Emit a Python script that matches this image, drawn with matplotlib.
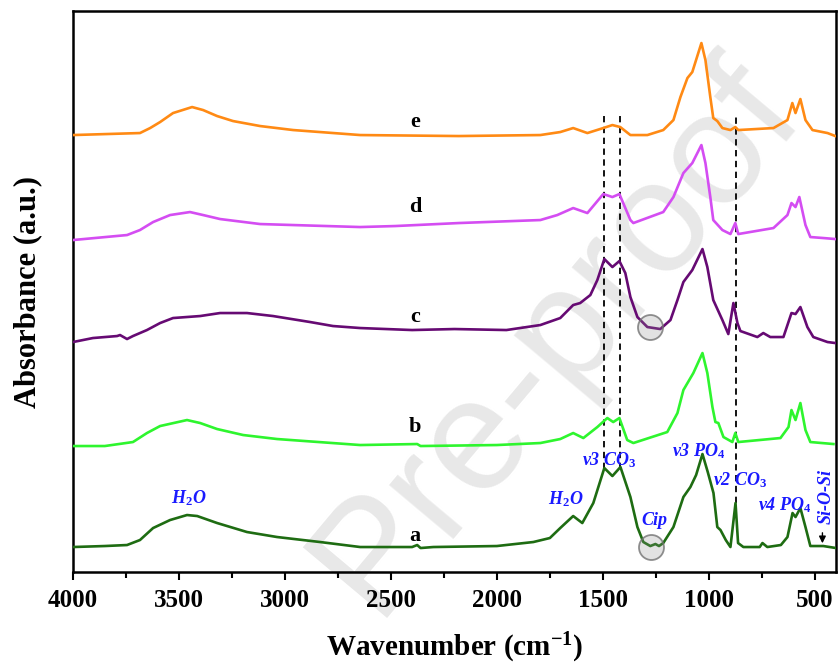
import matplotlib
matplotlib.use("Agg")
import matplotlib.pyplot as plt
from matplotlib.ticker import MultipleLocator

plt.rcParams['font.family'] = ['Liberation Serif', 'DejaVu Serif']
plt.rcParams['mathtext.fontset'] = 'custom'
plt.rcParams['mathtext.rm'] = 'Liberation Serif:bold'
plt.rcParams['mathtext.it'] = 'Liberation Serif:italic:bold'
plt.rcParams['mathtext.bf'] = 'Liberation Serif:bold'

# FTIR spectra (wavenumber in cm-1, absorbance above each baseline)
wn_a = [4000, 3850, 3745, 3684, 3622, 3542, 3462, 3414, 3320, 3179, 3037, 2834, 2645, 2400,
        2376, 2360, 2300, 2000, 1828, 1750, 1701, 1640, 1597, 1545, 1493, 1455, 1417,
        1370, 1337, 1309, 1276, 1252, 1235, 1215, 1167, 1120, 1087, 1060, 1030, 1005, 978, 960, 945,
        920, 898, 874, 862, 837, 760, 747, 724, 660, 629, 605, 591, 568, 544, 521, 460, 400]
abs_a = [0, 0.01, 0.02, 0.07, 0.19, 0.27, 0.32, 0.31, 0.24, 0.15, 0.10, 0.05, 0.0, 0.0,
         0.02, -0.01, 0.0, 0.01, 0.05, 0.09, 0.19, 0.31, 0.24, 0.44, 0.79, 0.71, 0.80,
         0.50, 0.20, 0.05, 0.01, 0.03, 0.01, 0.04, 0.20, 0.50, 0.60, 0.72, 0.93, 0.75, 0.54, 0.20, 0.17,
         0.07, 0.0, 0.44, 0.04, 0.0, 0.0, 0.04, 0.0, 0.02, 0.10, 0.34, 0.30, 0.39, 0.20, 0.01, 0.01, -0.01]

wn_b = [4000, 3850, 3717, 3651, 3589, 3462, 3400, 3320, 3197, 3037, 2645, 2376, 2360, 2000,
        1795, 1701, 1640, 1592, 1526, 1479, 1451, 1422, 1385, 1356, 1196, 1148, 1120, 1073,
        1030, 1007, 983, 969, 955, 931, 889, 875, 861, 662, 624, 610, 591, 568, 544, 521, 412]
abs_b = [-0.01, -0.01, 0.03, 0.12, 0.19, 0.25, 0.22, 0.16, 0.10, 0.06, 0.0, 0.01, -0.01, 0.0,
         0.02, 0.06, 0.12, 0.07, 0.18, 0.27, 0.23, 0.27, 0.05, 0.02, 0.13, 0.32, 0.55, 0.72,
         0.92, 0.72, 0.38, 0.23, 0.22, 0.08, 0.03, 0.12, 0.03, 0.07, 0.18, 0.35, 0.25, 0.42, 0.15, 0.03, 0.01]

wn_c = [4000, 3906, 3792, 3778, 3745, 3717, 3651, 3589, 3528, 3400, 3306, 3179, 3056, 2881,
        2773, 2645, 2400, 2200, 1955, 1795, 1701, 1640, 1607, 1559, 1526, 1493, 1455, 1422,
        1394, 1370, 1337, 1290, 1229, 1181, 1148, 1120, 1078, 1030, 1007, 979, 936, 908, 884,
        865, 851, 771, 743, 710, 648, 610, 591, 568, 535, 507, 440, 403]
abs_c = [-0.02, 0.02, 0.04, 0.05, 0.01, 0.04, 0.10, 0.17, 0.22, 0.24, 0.27, 0.27, 0.24, 0.18,
         0.14, 0.12, 0.10, 0.11, 0.10, 0.15, 0.22, 0.35, 0.37, 0.45, 0.60, 0.81, 0.73, 0.79,
         0.67, 0.43, 0.23, 0.13, 0.11, 0.20, 0.40, 0.58, 0.70, 0.91, 0.73, 0.40, 0.20, 0.06, 0.37,
         0.17, 0.09, 0.03, 0.07, 0.03, 0.03, 0.27, 0.26, 0.33, 0.13, 0.03, -0.02, -0.03]

wn_d = [4000, 3745, 3684, 3622, 3542, 3448, 3386, 3306, 3117, 2961, 2645, 2480, 2180, 1795,
        1715, 1640, 1573, 1498, 1455, 1422, 1370, 1356, 1215, 1167, 1120, 1078, 1035, 1016,
        993, 979, 936, 898, 875, 861, 695, 629, 610, 591, 573, 544, 521, 459, 403]
abs_d = [0, 0.05, 0.10, 0.18, 0.25, 0.28, 0.25, 0.21, 0.16, 0.15, 0.13, 0.14, 0.17, 0.20,
         0.25, 0.32, 0.27, 0.46, 0.43, 0.46, 0.20, 0.17, 0.28, 0.43, 0.67, 0.77, 0.95, 0.77,
         0.43, 0.20, 0.10, 0.06, 0.17, 0.06, 0.12, 0.25, 0.37, 0.33, 0.43, 0.15, 0.03, 0.02, 0.01]

wn_e = [4000, 3684, 3636, 3589, 3528, 3438, 3386, 3320, 3245, 3117, 2961, 2645, 2180, 1795,
        1701, 1640, 1573, 1498, 1455, 1418, 1370, 1290, 1215, 1167, 1134, 1101, 1078, 1035,
        1016, 993, 979, 960, 936, 898, 875, 861, 695, 629, 606, 591, 568, 544, 511, 440, 403]
abs_e = [0, 0.02, 0.07, 0.13, 0.22, 0.28, 0.25, 0.19, 0.14, 0.09, 0.05, 0.0, -0.01, 0.0,
         0.03, 0.07, 0.02, 0.07, 0.10, 0.08, 0.0, 0.0, 0.05, 0.15, 0.38, 0.57, 0.63, 0.92,
         0.75, 0.38, 0.17, 0.14, 0.07, 0.05, 0.08, 0.05, 0.07, 0.15, 0.32, 0.22, 0.36, 0.15, 0.05, 0.02, -0.01]

samples = ['a', 'b', 'c', 'd', 'e']
offsets = [0.25, 1.27, 2.32, 3.32, 4.37]
colors = ['#1e6c12', '#2ef52e', '#660a73', '#d44df2', '#ff8a14']
spectra = [(wn_a, abs_a), (wn_b, abs_b), (wn_c, abs_c), (wn_d, abs_d), (wn_e, abs_e)]

# bands marked with dashed lines (CO3) and the Cip bands
co3_bands = [1493, 1418, 870]
cip_band = 1276

fig = plt.figure(figsize=(8.38, 6.66), dpi=100)
ax = fig.add_axes([0.0871, 0.1411, 0.9105, 0.8423])
ax.patch.set_alpha(0)

# journal watermark
ax.text(0.664, 0.495, 'Pre-proof', transform=fig.transFigure, rotation=50,
        rotation_mode='anchor', ha='center', va='center', fontsize=115,
        family='Liberation Sans', color='#e8e8e8', zorder=0, clip_on=False)

for (wn, ab), off, col in zip(spectra, offsets, colors):
    ax.plot(wn, [v + off for v in ab], color=col, lw=1.9, zorder=3)

# dashed guides
ax.vlines(co3_bands[:2], 1.03, 4.59, colors='black', linestyles=(0, (3.5, 2.5)), lw=1.3, zorder=2)
ax.vlines(co3_bands[2:], 0.69, 4.59, colors='black', linestyles=(0, (3.5, 2.5)), lw=1.3, zorder=2)

# circles around the Cip band
ax.plot([cip_band, cip_band - 5], [2.45, 0.25], 'o', ms=18, mfc=(0.55, 0.55, 0.55, 0.25),
        mec=(0.45, 0.45, 0.45, 0.8), mew=1.3, ls='none', zorder=4)

# sample labels
label_y = [0.36, 1.45, 2.55, 3.65, 4.50]
for s, y in zip(samples, label_y):
    ax.text(2385, y, s, ha='center', va='center', fontsize=16, fontweight='bold')

blue = '#1a1aff'
bkw = dict(color=blue, fontsize=13, fontweight='bold', style='italic', ha='center', va='center')
ax.text(3452, 0.74, r'H$_{\mathit{2}}$O', **bkw)
ax.text(1677, 0.73, r'H$_{\mathit{2}}$O', **bkw)
ax.text(1468, 1.12, r'v3 CO$_{\mathit{3}}$', **bkw)
ax.text(1257, 0.52, 'Cip', **bkw)
ax.text(1049, 1.21, r'v3 PO$_{\mathit{4}}$', **bkw)
ax.text(853, 0.92, r'v2 CO$_{\mathit{3}}$', **bkw)
ax.text(640, 0.67, r'v4 PO$_{\mathit{4}}$', **bkw)
ax.text(445, 0.76, 'Si-O-Si', rotation=90, **bkw)
ax.annotate('', xy=(464, 0.26), xytext=(464, 0.42),
            arrowprops=dict(arrowstyle='-|>', color='black', lw=1.0, mutation_scale=10))

ax.set_xlim(4000, 400)
ax.set_ylim(0, 5.61)
ax.xaxis.set_major_locator(MultipleLocator(500))
ax.xaxis.set_minor_locator(MultipleLocator(250))
ax.set_yticks([])
ax.tick_params(axis='x', which='major', direction='out', length=6, width=1.5, pad=6, labelsize=18)
ax.tick_params(axis='x', which='minor', direction='out', length=4, width=1.5)
for lab in ax.get_xticklabels():
    lab.set_fontweight('bold')
for sp in ax.spines.values():
    sp.set_linewidth(1.8)

ax.set_xlabel('Wavenumber (cm$^{\\mathbf{-1}}$)', fontsize=21, fontweight='bold', labelpad=14)
ax.set_ylabel('Absorbance (a.u.)', fontsize=22, fontweight='bold', labelpad=22)

fig.savefig('out.png', dpi=100)
